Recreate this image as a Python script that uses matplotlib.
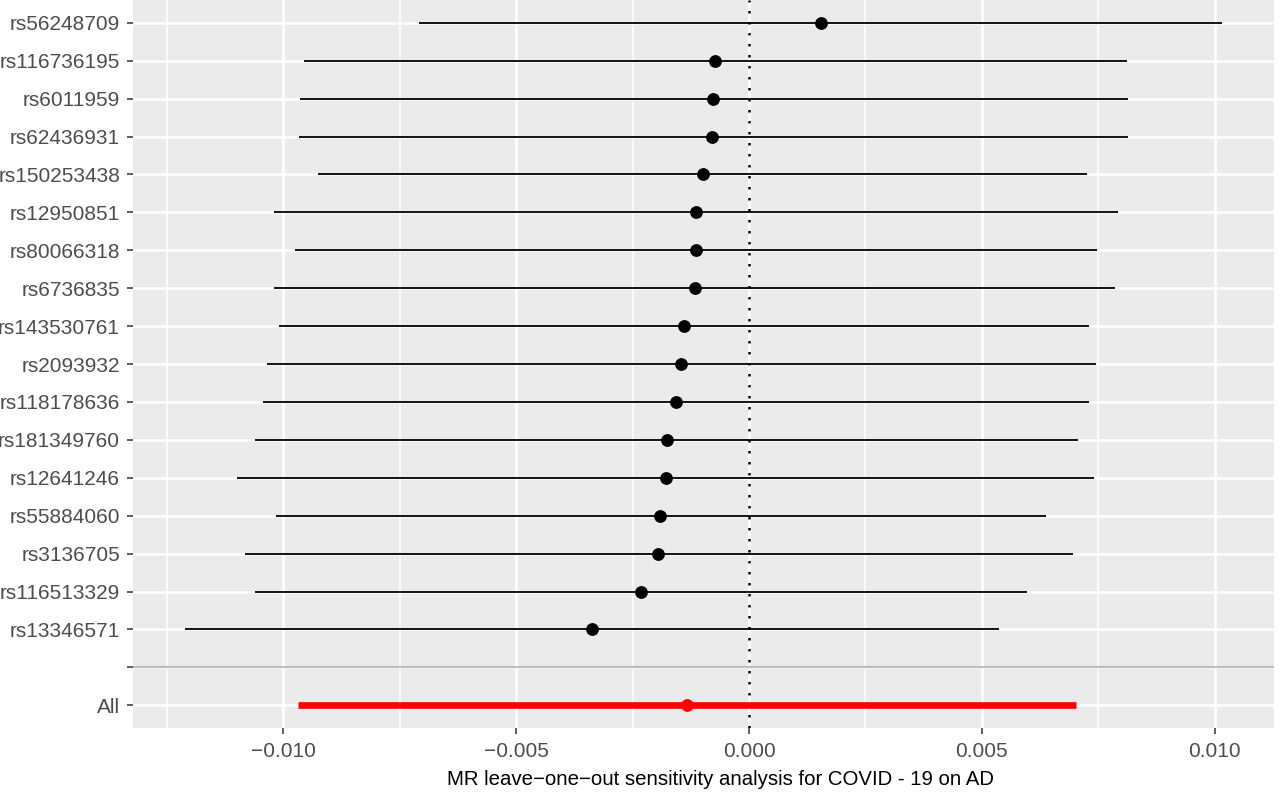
import numpy as np
import matplotlib
matplotlib.use("Agg")
import matplotlib.pyplot as plt

plt.rcParams['font.family'] = ['Liberation Sans', 'DejaVu Sans']

snps = ['rs56248709', 'rs116736195', 'rs6011959', 'rs62436931', 'rs150253438',
        'rs12950851', 'rs80066318', 'rs6736835', 'rs143530761', 'rs2093932',
        'rs118178636', 'rs181349760', 'rs12641246', 'rs55884060', 'rs3136705',
        'rs116513329', 'rs13346571']
b = [0.001546, -0.000730, -0.000773, -0.000795, -0.000988,
     -0.001138, -0.001138, -0.001160, -0.001396, -0.001460,
     -0.001568, -0.001761, -0.001782, -0.001911, -0.001954,
     -0.002319, -0.003371]
lo = [-0.007086, -0.009556, -0.009641, -0.009663, -0.009255,
      -0.010200, -0.009749, -0.010200, -0.010092, -0.010350,
      -0.010436, -0.010608, -0.010994, -0.010157, -0.010823,
      -0.010608, -0.012111]
up = [0.010157, 0.008117, 0.008138, 0.008138, 0.007258,
      0.007924, 0.007473, 0.007859, 0.007300, 0.007451,
      0.007300, 0.007065, 0.007408, 0.006378, 0.006957,
      0.005970, 0.005368]

all_b = -0.001331
all_lo = -0.009684
all_up = 0.007022

xticks = [-0.010, -0.005, 0.000, 0.005, 0.010]
xlabel = 'MR leave\u2212one\u2212out sensitivity analysis for COVID - 19 on AD'

n = len(snps)
ypos = np.arange(n + 2, 2, -1)   # snps from top, then blank row, then All
labels = ['All', ''] + snps[::-1]

fig = plt.figure(figsize=(12.8, 7.97), dpi=100)
ax = fig.add_axes([133 / 1280, 1 - 728 / 797, (1274 - 133) / 1280, 728 / 797])
ax.set_facecolor('#EBEBEB')

# x range like ggplot: 5% padding on data
xmin = min(min(lo), all_lo)
xmax = max(max(up), all_up)
pad = (xmax - xmin) * 0.05
ax.set_xlim(xmin - pad, xmax + pad)
ax.set_ylim(0.4, n + 2.6)

# grid
for xm in np.arange(-0.0125, 0.0126, 0.005):
    ax.axvline(xm, color='white', lw=1.1, zorder=0)
for xt in xticks:
    ax.axvline(xt, color='white', lw=1.8, zorder=0)
for yy in range(1, n + 3):
    ax.axhline(yy, color='white', lw=1.8, zorder=0)

ax.axhline(2, color='#BEBEBE', lw=1.6, zorder=1)
ax.axvline(0, color='black', lw=1.8, linestyle=(0, (1, 3.4)), zorder=2)

ax.hlines(ypos, lo, up, color='black', lw=1.3, zorder=3)
ax.plot(b, ypos, 'o', color='black', ms=8.2, zorder=4)

ax.hlines(1, all_lo, all_up, color='red', lw=4.8, zorder=3)
ax.plot(all_b, 1, 'o', color='red', ms=8.2, zorder=4)

ax.set_yticks(range(1, n + 3))
ax.set_yticklabels(labels)
ax.set_xticks(xticks)
ax.set_xticklabels(['\u22120.010', '\u22120.005', '0.000', '0.005', '0.010'])

ax.tick_params(axis='both', colors='#333333', labelcolor='#4D4D4D',
               labelsize=15, length=4.3, width=1.1)
ax.tick_params(axis='y', pad=5)
ax.tick_params(axis='x', pad=6)
ax.set_xlabel(xlabel, fontsize=14.7, color='black', labelpad=8)
ax.xaxis.set_label_coords(0.5145, -0.058)

for s in ax.spines.values():
    s.set_visible(False)

fig.savefig('out.png', dpi=100)
